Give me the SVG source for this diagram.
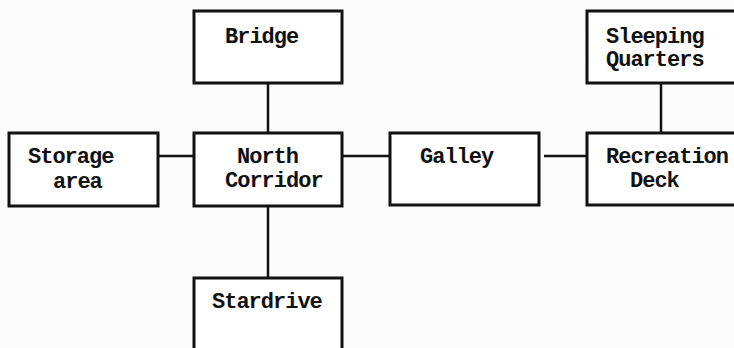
<svg xmlns="http://www.w3.org/2000/svg" width="734" height="348" viewBox="0 0 734 348">
  <style>
    .box { fill: #ffffff; stroke: #111111; stroke-width: 3; }
    .link { stroke: #111111; stroke-width: 2.5; fill: none; }
    .lbl { font-family: "Liberation Mono", "DejaVu Sans Mono", monospace; font-weight: bold; font-size: 22px; letter-spacing: -1px; fill: #111111; }
  </style>
  <rect x="0" y="0" width="734" height="348" fill="#fcfcfc"/>

  <g id="connectors">
    <line class="link" x1="268" y1="83" x2="268" y2="133"/>
    <line class="link" x1="158" y1="156" x2="194" y2="156"/>
    <line class="link" x1="342" y1="156" x2="390" y2="156"/>
    <line class="link" x1="544" y1="156" x2="587" y2="156"/>
    <line class="link" x1="661" y1="83" x2="661" y2="133"/>
    <line class="link" x1="268" y1="206" x2="268" y2="278"/>
  </g>

  <g id="bridge">
    <rect class="box" x="194" y="11" width="148" height="72"/>
    <text class="lbl" x="225" y="43">Bridge</text>
  </g>

  <g id="storage-area">
    <rect class="box" x="9" y="133" width="149" height="73"/>
    <text class="lbl" x="28" y="163">Storage</text>
    <text class="lbl" x="53" y="188">area</text>
  </g>

  <g id="north-corridor">
    <rect class="box" x="194" y="133" width="148" height="73"/>
    <text class="lbl" x="237" y="163">North</text>
    <text class="lbl" x="225" y="187">Corridor</text>
  </g>

  <g id="galley">
    <rect class="box" x="390" y="133" width="149" height="72"/>
    <text class="lbl" x="420" y="163">Galley</text>
  </g>

  <g id="sleeping-quarters">
    <rect class="box" x="587" y="11" width="150" height="72"/>
    <text class="lbl" x="606" y="43">Sleeping</text>
    <text class="lbl" x="606" y="66">Quarters</text>
  </g>

  <g id="recreation-deck">
    <rect class="box" x="587" y="133" width="150" height="72"/>
    <text class="lbl" x="606" y="163">Recreation</text>
    <text class="lbl" x="630" y="187">Deck</text>
  </g>

  <g id="stardrive">
    <rect class="box" x="194" y="278" width="148" height="80"/>
    <text class="lbl" x="212" y="308">Stardrive</text>
  </g>
</svg>
